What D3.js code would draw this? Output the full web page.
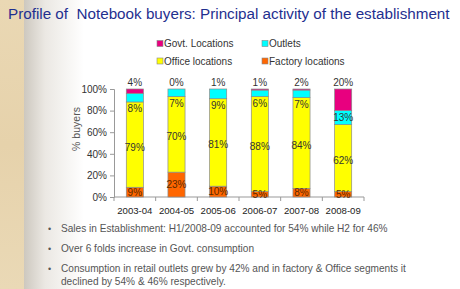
<!DOCTYPE html>
<html><head><meta charset="utf-8">
<script src="https://cdn.jsdelivr.net/npm/d3@7"></script>
<style>html,body{margin:0;padding:0;background:#fff;}svg{display:block;}text{white-space:pre;}</style>
</head><body>
<script>
const categories = ["2003-04","2004-05","2005-06","2006-07","2007-08","2008-09"];
const factory = [9, 23, 10, 5, 8, 5];
const office  = [79, 70, 81, 88, 84, 62];
const outlets = [8, 7, 9, 6, 7, 13];
const govt    = [4, 0, 1, 1, 2, 20];
const seriesNames = ["Factory locations","Office locations","Outlets","Govt. Locations"];
const seriesColors = ["#ff6600","#ffff00","#00ffff","#e8007f"];
const yTicks = [0,20,40,60,80,100];
const title = "Profile of  Notebook buyers: Principal activity of the establishment";
const bullets = [
  ["Sales in Establishment: H1/2008-09 accounted for 54% while H2 for 46%"],
  ["Over 6 folds increase in Govt. consumption"],
  ["Consumption in retail outlets grew by 42% and in factory & Office segments it","declined by 54% & 46% respectively."]
];

const W = 460, H = 289;
const svg = d3.select("body").append("svg").attr("width", W).attr("height", H);
const defs = svg.append("defs");
const g1 = defs.append("linearGradient").attr("id","fade").attr("x1","0").attr("x2","1").attr("y1","0").attr("y2","0");
g1.append("stop").attr("offset","0").attr("stop-color","#cdc8bf");
g1.append("stop").attr("offset","0.35").attr("stop-color","#ebe8e3");
g1.append("stop").attr("offset","1").attr("stop-color","#ffffff");
const g2 = defs.append("linearGradient").attr("id","parch").attr("x1","0").attr("x2","0").attr("y1","0").attr("y2","1");
g2.append("stop").attr("offset","0").attr("stop-color","#ead8b4");
g2.append("stop").attr("offset","0.5").attr("stop-color","#e6d2ab");
g2.append("stop").attr("offset","1").attr("stop-color","#ead9b6");

svg.append("rect").attr("width",W).attr("height",H).attr("fill","#fff");
svg.append("rect").attr("x",0).attr("y",0).attr("width",24).attr("height",H).attr("fill","url(#parch)");
svg.append("rect").attr("x",24).attr("y",0).attr("width",60).attr("height",H).attr("fill","url(#fade)");

const font = "Liberation Sans, Arial, sans-serif";

const titleEl = svg.append("text").attr("x",8).attr("y",19).attr("xml:space","preserve").text(title)
  .attr("font-family",font).attr("font-size",16)
  .attr("fill","#1f2f8f");
// fit title to the reference width
const tw = titleEl.node().getComputedTextLength();
titleEl.attr("font-size", 16 * Math.min(1, 442 / tw));

const x = d3.scaleBand().domain(categories).range([114, 364]).paddingInner(0.59).paddingOuter(0.295);
const y = d3.scaleLinear().domain([0,100]).range([197, 89]);

// axes
const yAxis = svg.append("g").attr("transform","translate(114,0)")
  .call(d3.axisLeft(y).tickValues(yTicks).tickFormat(d=>d+"%").tickSize(4).tickPadding(3));
yAxis.select(".domain").attr("stroke","#999");
yAxis.selectAll(".tick line").attr("stroke","#999");
yAxis.selectAll("text").attr("font-family",font).attr("font-size",10).attr("fill","#333");

const xAxis = svg.append("g").attr("transform","translate(0,197)")
  .call(d3.axisBottom(x).tickSize(0).tickPadding(10));
xAxis.select(".domain").attr("stroke","#999").attr("d","M114,0H364");
xAxis.selectAll("text").attr("font-family",font).attr("font-size",9.6).attr("fill","#222");
const step = x.step();
svg.append("g").selectAll("line").data(d3.range(categories.length+1)).join("line")
  .attr("x1", i=>114+i*step).attr("x2", i=>114+i*step).attr("y1",197).attr("y2",201).attr("stroke","#999");

svg.append("text").attr("transform","translate(80,129) rotate(-90)").attr("text-anchor","middle")
  .attr("font-family",font).attr("font-size",10.5).attr("fill","#555").text("% buyers");

// stacked data
const rows = categories.map((c,i)=>({cat:c, f:factory[i], o:office[i], u:outlets[i], g:govt[i]}));
const stack = d3.stack().keys(["f","o","u","g"])(rows);
const bw = x.bandwidth();
stack.forEach((s,si)=>{
  svg.append("g").selectAll("rect").data(s).join("rect")
    .attr("x", d=>x(d.data.cat)).attr("width", bw)
    .attr("y", d=>y(Math.min(d[1],100))).attr("height", d=>Math.max(0, y(d[0]) - y(Math.min(d[1],100))))
    .attr("fill", seriesColors[si]).attr("stroke","#8a8a8a").attr("stroke-width",0.7);
});

// labels
const lab = svg.append("g").attr("font-family",font).attr("font-size",10).attr("fill","#333").attr("text-anchor","middle");
rows.forEach((r,i)=>{
  const cx = x(r.cat)+bw/2;
  lab.append("text").attr("x",cx).attr("y",(y(0)+y(r.f))/2+3.5).text(r.f+"%").attr("fill","#5a2a00");
  lab.append("text").attr("x",cx).attr("y",(y(r.f)+y(r.f+r.o))/2+6).text(r.o+"%");
  const top = y(r.f+r.o), segH = y(r.f+r.o) - y(r.f+r.o+r.u);
  const uy = segH > 12 ? top - segH/2 + 3.5 : top + 10;
  lab.append("text").attr("x",cx).attr("y",uy).text(r.u+"%");
  lab.append("text").attr("x",cx).attr("y",86).text(r.g+"%");
});

// legend
const legendPos = [[262,61],[157,61],[262,43.5],[157,43.5]];
seriesNames.forEach((n,i)=>{
  const [lx,ly] = legendPos[i];
  svg.append("rect").attr("x",lx).attr("y",ly-3).attr("width",6).attr("height",6)
    .attr("fill",seriesColors[i]).attr("stroke","#888").attr("stroke-width",0.6);
  svg.append("text").attr("x",lx+7).attr("y",ly+3.5).text(n)
    .attr("font-family",font).attr("font-size",10).attr("fill","#333");
});

// bullets
const by = [228, 248, 268];
bullets.forEach((lines,i)=>{
  svg.append("text").attr("x",48).attr("y",by[i]+3.5).text("•")
    .attr("font-family",font).attr("font-size",9).attr("fill","#555");
  lines.forEach((t,j)=>{
    svg.append("text").attr("x",61).attr("y",by[i]+3.8+j*13).text(t)
      .attr("font-family",font).attr("font-size",10.1).attr("fill","#555");
  });
});
</script>
</body></html>
